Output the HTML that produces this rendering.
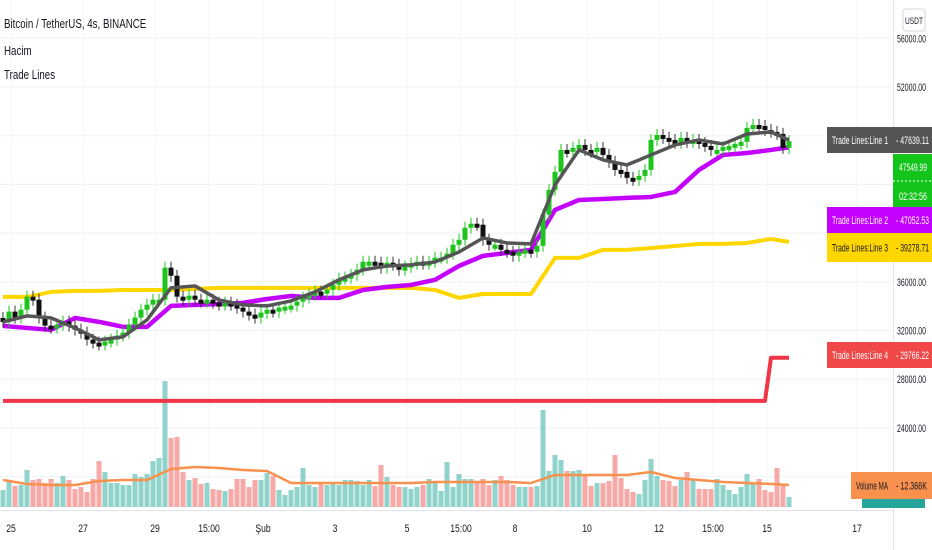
<!DOCTYPE html>
<html><head><meta charset="utf-8">
<style>
html,body{margin:0;padding:0;background:#fff;width:932px;height:550px;overflow:hidden;}
svg{display:block;font-family:"Liberation Sans",sans-serif;}
</style></head>
<body>
<svg id="chart" width="932" height="550" xmlns="http://www.w3.org/2000/svg">
<g id="grid"></g>
<g id="vol"></g>
<g id="lines"></g>
<g id="candles"></g>
<g id="axes"></g>
<g id="labels"></g>
<text class="nar" x="4" y="28" font-size="12.5" fill="#131722">Bitcoin / TetherUS, 4s, BINANCE</text>
<text class="nar" x="4" y="55" font-size="12.5" fill="#131722">Hacim</text>
<text class="nar" x="4" y="79" font-size="12.5" fill="#131722">Trade Lines</text>
</svg>
<script>
const closes=[32730,33550,33060,33710,34780,34530,33060,32400,32240,32480,32730,32400,32070,31830,31250,31010,30840,31090,31250,31580,31830,32480,33060,33710,34120,34530,34530,37160,36500,34780,34530,34860,34530,34370,34530,34290,34120,34290,34120,33880,33550,33300,33060,33470,33710,33550,33880,33960,34040,34370,34700,34940,35190,35110,35350,35760,36260,36340,36580,36990,37650,37650,37570,37160,37570,37400,36990,37240,37490,37650,37490,37650,37980,37980,38310,39040,39450,40440,40770,40690,39450,39040,39040,38630,38470,38140,38470,38630,38470,38960,41500,43550,45030,46830,46670,47000,47240,46830,46670,47000,46420,45850,45190,45030,44540,44370,44700,45190,47650,48060,47820,47650,47410,47820,47490,47650,47410,47160,46830,46830,47080,47160,47330,47490,48640,48880,48800,48470,48310,48150,47000,47550];
const volumes=[17,25,21,22,37,27,28,24,28,24,31,27,18,20,15,28,46,35,24,24,22,22,33,30,33,46,49,126,69,70,35,27,29,23,24,18,17,16,18,28,28,20,27,27,34,31,17,12,17,20,39,22,20,24,22,24,22,27,27,26,22,27,21,42,30,22,20,20,18,20,22,28,25,16,45,20,33,28,28,24,28,22,27,31,27,22,20,20,20,21,97,36,52,47,36,36,37,31,21,24,24,26,52,29,18,15,13,27,48,31,27,26,21,27,35,27,18,18,18,28,22,17,13,20,33,24,28,17,15,39,21,10];
const sampleBars=[0,4,8,12,16,20,24,28,32,36,40,44,48,52,56,60,64,68,72,76,80,84,88,92,96,100,104,108,112,116,120,124,128,131];
const line1Vals=[32700,33200,33040,32210,31230,31480,32870,35500,35660,34510,34100,34020,34430,35170,36160,36980,37300,37390,37630,38450,39600,39190,39110,43950,46830,46010,45600,46420,47240,47650,47320,48140,48310,47639];
const line2Vals=[32380,32210,32050,33030,32710,32300,32300,34020,34100,34180,34270,34590,34840,34680,34680,35330,35580,35740,36160,37300,38130,38370,38620,41900,42720,42800,42890,42970,43380,45190,46420,46580,46830,47052];
const line3Vals=[34760,34760,35170,35250,35250,35330,35330,35330,35420,35500,35500,35500,35500,35500,35500,35500,35500,35500,35330,34680,35000,35000,35000,37960,37960,38620,38620,38780,38940,39110,39110,39190,39520,39279];
const line4Bars=[0,127,128,131];
const line4Vals=[26220,26220,29766,29766];
const volMAVals=[27,23,22,22,26,27,27,38,40,39,37,36,24,24,24,24,24,24,25,25,25,25,24,32,32,32,32,35,29,27,25,24,23,22];
const priceTicks=[56000,52000,48000,44000,40000,36000,32000,28000,24000,20000];
const timeTickBars=[1,13,25,34,43,55,67,76,85,97,109,118,127,142];
const timeTickLabels=["25","27","29","15:00","Şub","3","5","15:00","8","10","12","15:00","15","17"];

const NS="http://www.w3.org/2000/svg";
const PANE_R=893, VOL_BASE=507;
const xOf=i=>3+6*i;
const yOf=p=>87+(52000-p)/4000*48.7;
const vOf=v=>VOL_BASE-v;
function mk(tag,attrs,parent){const e=document.createElementNS(NS,tag);for(const k in attrs)e.setAttribute(k,attrs[k]);parent.appendChild(e);return e;}
const G=id=>document.getElementById(id);
function txt(attrs,parent,s,len){const t=mk('text',attrs,parent);t.textContent=s;
if(len){t.setAttribute('textLength',len);t.setAttribute('lengthAdjust','spacingAndGlyphs');}else t.classList.add('nar');return t;}

// grid
priceTicks.forEach(p=>{const l=mk('line',{x1:0,x2:PANE_R,y1:yOf(p),y2:yOf(p),stroke:'#eef0f4','stroke-width':1},G('grid'));

});
timeTickBars.forEach(b=>{const l=mk('line',{x1:xOf(b)+2,x2:xOf(b)+2,y1:0,y2:510,stroke:'#f5f6f9','stroke-width':1},G('grid'));

});

// volumes
volumes.forEach((v,i)=>{const up=i===0?true:closes[i]>=closes[i-1];
const r=mk('rect',{x:xOf(i)-2.5,y:vOf(v),width:5,height:v,fill:up?'#8fd3cb':'#f6a9a6'},G('vol'));

});
const vma=mk('polyline',{points:sampleBars.map((b,k)=>xOf(b)+','+vOf(volMAVals[k])).join(' '),fill:'none',stroke:'#f7914d','stroke-width':2.5,'stroke-linejoin':'round'},G('vol'));



// lines
function drawLine(bars,vals,color,w,name,parent){const pl=mk('polyline',{points:bars.map((b,k)=>xOf(b)+','+yOf(vals[k])).join(' '),fill:'none',stroke:color,'stroke-width':w,'stroke-linejoin':'round'},parent);

}
drawLine(line4Bars,line4Vals,'#f23645',4,'trade-line-4',G('lines'));
drawLine(sampleBars,line3Vals,'#ffd600',4,'trade-line-3',G('lines'));
drawLine(sampleBars,line2Vals,'#c400ff',4.5,'trade-line-2',G('lines'));

// candles
closes.forEach((c,i)=>{const o=i===0?c+300:closes[i-1];const up=c>=o;const col=up?'#1ec41e':'#111';
const top=yOf(Math.max(o,c)),bot=yOf(Math.min(o,c));
const w=mk('line',{x1:xOf(i),x2:xOf(i),y1:top-6,y2:bot+6,stroke:up?'#1ec41e':'#333','stroke-width':1},G('candles'));


const b=mk('rect',{x:xOf(i)-2.5,y:top,width:5,height:Math.max(4,bot-top),fill:col},G('candles'));

});
drawLine(sampleBars,line1Vals,'#555',3.5,'trade-line-1',G('candles'));

// axes
const ax=G('axes');
mk('rect',{x:PANE_R,y:0,width:39,height:550,fill:'#fff'},ax);
mk('line',{x1:PANE_R+0.5,x2:PANE_R+0.5,y1:0,y2:550,stroke:'#e0e3eb'},ax);
mk('line',{x1:0,x2:PANE_R,y1:510.5,y2:510.5,stroke:'#e0e3eb'},ax);
priceTicks.forEach(p=>{const t=txt({x:897,y:yOf(p)+4,'font-size':11,fill:'#131722'},ax,p.toFixed(2),29);

});
timeTickBars.forEach((b,k)=>{const t=txt({x:xOf(b)+2,y:532,'font-size':11,fill:'#131722','text-anchor':'middle'},ax,timeTickLabels[k]);

});
const ub=mk('rect',{x:903,y:9,width:22,height:22,rx:3,fill:'#fff',stroke:'#d1d4dc'},ax);


txt({x:905,y:24,'font-size':9,fill:'#131722'},ax,'USDT',18);

// price labels
const L=G('labels');
function label(y1,h,x0,name0,val,bg,fg,name){const r=mk('rect',{x:x0,y:y1,width:932-x0,height:h,fill:bg},L);


txt({x:x0+5,y:y1+h/2+4,'font-size':11,fill:fg},L,name0,888-x0-5);
txt({x:896,y:y1+h/2+4,'font-size':11,fill:fg},L,'- '+val,val.length>7?33:31);}
label(127,26,827,'Trade Lines:Line 1','47639.11','#555555','#fff','line-1-label');
const gb=mk('rect',{x:PANE_R,y:154,width:39,height:56,fill:'#13c41b'},L);


mk('line',{x1:PANE_R,x2:932,y1:181,y2:181,stroke:'#fff','stroke-dasharray':'2,2'},L);
txt({x:899,y:171,'font-size':11,fill:'#fff'},L,'47549.99',28);
txt({x:899,y:200,'font-size':11,fill:'#fff'},L,'02:32:56',28);
label(207,26,827,'Trade Lines:Line 2','47052.53','#c400ff','#fff','line-2-label');
label(233,29,827,'Trade Lines:Line 3','39278.71','#ffd600','#131722','line-3-label');
label(342,26,827,'Trade Lines:Line 4','29766.22','#f04848','#fff','line-4-label');
const tb=mk('rect',{x:862,y:499,width:63,height:9,fill:'#26a69a'},L);


label(472,27,851,'Volume MA','12.366K','#f7914d','#131722','volume-ma-label');

// condense remaining text to mimic narrow UI font
document.querySelectorAll('text.nar').forEach(t=>{const w=t.getComputedTextLength();
t.setAttribute('textLength',(w*0.78).toFixed(1));
t.setAttribute('lengthAdjust','spacingAndGlyphs');});
</script>
</body></html>
